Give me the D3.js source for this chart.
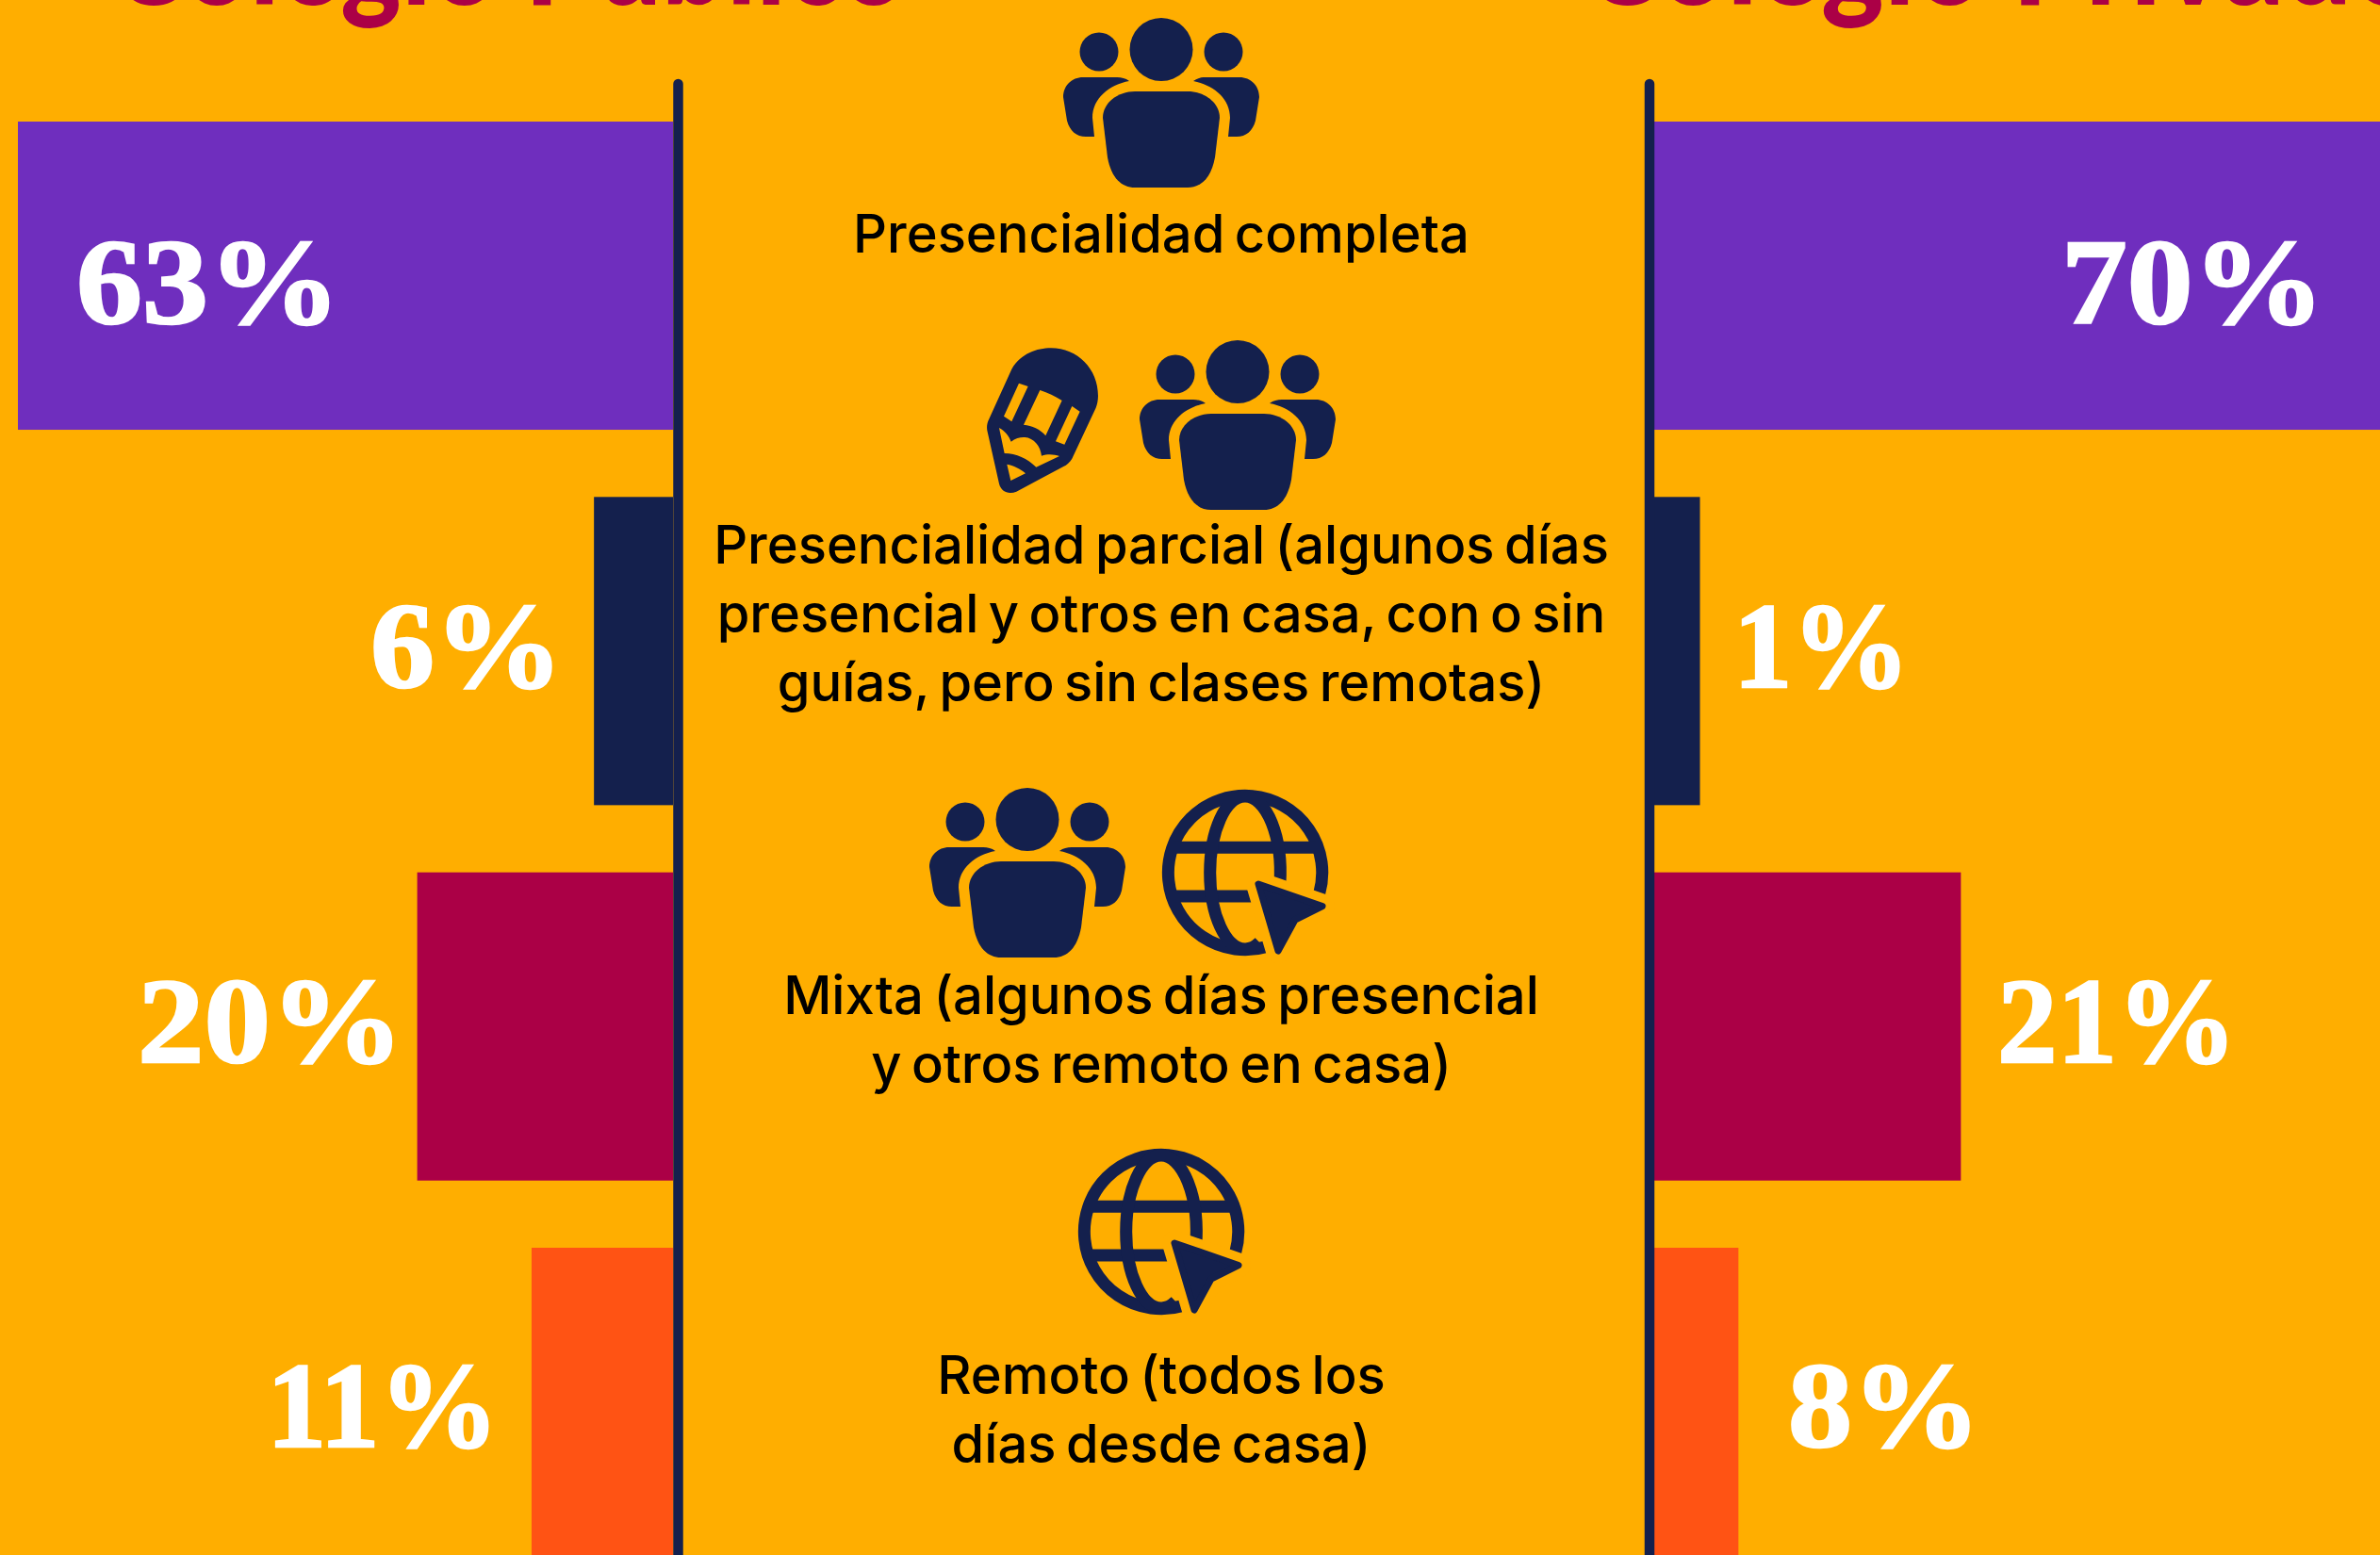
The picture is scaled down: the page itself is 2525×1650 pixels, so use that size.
<!DOCTYPE html>
<html>
<head>
<meta charset="utf-8">
<script src="https://cdn.jsdelivr.net/npm/d3@7"></script>
<style>
  html, body { margin: 0; padding: 0; background: #FFAE00; overflow: hidden; }
  svg { display: block; }
</style>
</head>
<body>
<svg></svg>
<script>
var categories = [
  'Presencialidad completa',
  'Presencialidad parcial (algunos días|presencial y otros en casa, con o sin|guías, pero sin clases remotas)',
  'Mixta (algunos días presencial|y otros remoto en casa)',
  'Remoto (todos los|días desde casa)'
];
var titles = ['Colegio Público', 'Colegio Privado'];

// printed percentages
var publicLabels = [63, 6, 20, 11];
var privateLabels = [70, 1, 21, 8];
// bar lengths as drawn in the picture, they don't follow the printed numbers
var publicBars = [63, 7.6, 24.6, 13.6];
var privateBars = [70, 4.4, 29.5, 8.1];

var barColors = ['#6F2EBE', '#14204D', '#AB0046', '#FF5314'];
var bg = '#FFAE00';
var navy = '#14204D';

var width = 2525;
var height = 1650;

var svg = d3.select('svg')
            .attr('width', width)
            .attr('height', height);

svg.append('rect')
    .attr('width', width)
    .attr('height', height)
    .attr('fill', bg);

var yScale = d3.scaleBand()
               .domain(categories)
               .range([129, 1651])
               .paddingInner(0.179)
               .paddingOuter(0);

var xPublic = d3.scaleLinear().domain([0, 63]).range([714, 19]);
var xPrivate = d3.scaleLinear().domain([0, 70]).range([1755, 2527]);

svg.selectAll('.bar-public')
    .data(publicBars)
  .enter().append('rect')
    .attr('x', d => xPublic(d))
    .attr('y', (d, i) => yScale(categories[i]))
    .attr('width', d => xPublic(0) - xPublic(d))
    .attr('height', yScale.bandwidth())
    .attr('fill', (d, i) => barColors[i]);

svg.selectAll('.bar-private')
    .data(privateBars)
  .enter().append('rect')
    .attr('x', xPrivate(0))
    .attr('y', (d, i) => yScale(categories[i]))
    .attr('width', d => xPrivate(d) - xPrivate(0))
    .attr('height', yScale.bandwidth())
    .attr('fill', (d, i) => barColors[i]);

// the two vertical axes
[719.5, 1750].forEach(function(x) {
  svg.append('line')
      .attr('x1', x).attr('x2', x)
      .attr('y1', 89).attr('y2', 1700)
      .attr('stroke', navy)
      .attr('stroke-width', 10.5)
      .attr('stroke-linecap', 'round');
});

// titles, mostly cut by the top of the picture
svg.selectAll('.title')
    .data(titles)
  .enter().append('text')
    .text(d => d)
    .attr('x', (d, i) => i ? 1678 : 116)
    .attr('y', 5)
    .attr('textLength', (d, i) => i ? 890 : 846)
    .attr('lengthAdjust', 'spacingAndGlyphs')
    .style('font-family', 'Lato')
    .style('font-weight', 900)
    .style('font-size', '138px')
    .attr('fill', '#AB0046');

// percent labels, [left, width] of each as laid out in the picture
var publicLayout = [[81, 280], [393, 204], [146, 282], [283, 246]];
var privateLayout = [[2187, 279], [1839, 187], [2119, 254], [1897, 204]];
var labelBase = [343, 729, 1127, 1535];

function drawLabels(values, layout) {
  svg.selectAll(null)
      .data(values)
    .enter().append('text')
      .text(d => d + '%')
      .attr('x', (d, i) => layout[i][0])
      .attr('y', (d, i) => labelBase[i])
      .attr('textLength', (d, i) => layout[i][1])
      .attr('lengthAdjust', 'spacingAndGlyphs')
      .style('font-family', 'Liberation Serif')
      .style('font-weight', 700)
      .style('font-size', '129px')
      .attr('fill', '#fff')
      .attr('stroke', '#fff')
      .attr('stroke-width', 2.5);
}
drawLabels(publicLabels, publicLayout);
drawLabels(privateLabels, privateLayout);

// center texts
var textBase = [268, 598, 1076, 1479];
var lineStep = 72.8;
categories.forEach(function(c, i) {
  c.split('|').forEach(function(line, j) {
    svg.append('text')
        .text(line)
        .attr('x', 1232)
        .attr('y', textBase[i] + j * lineStep)
        .attr('text-anchor', 'middle')
        .style('font-family', 'Inter')
        .style('font-weight', 500)
        .style('font-size', '56.1px')
        .style('word-spacing', '-4.5px')
        .attr('fill', '#000');
  });
});

// icons
function people(cx, top) {
  var g = svg.append('g')
      .attr('transform', 'translate(' + cx + ',' + top + ')')
      .attr('fill', navy);
  g.append('circle').attr('cy', 33.5).attr('r', 33.5);
  g.append('circle').attr('cx', -66).attr('cy', 36).attr('r', 20.5);
  g.append('circle').attr('cx', 66).attr('cy', 36).attr('r', 20.5);
  g.append('path')
      .attr('d', 'M-62,106C-62,90-46,78-28,78L28,78C46,78 62,90 62,106L57,148C53,170 42,180 28,180L-28,180C-42,180-53,170-57,148Z');
  var side = 'M34,67C38,64 42,63 47,63L83,63C95,63 104,72 104,84L100,109C97,120 90,126 80,126L71,126L73,106C73,85 55,71 34,67Z';
  g.append('path').attr('d', side);
  g.append('path').attr('d', side).attr('transform', 'scale(-1,1)');
}

function globe(cx, cy) {
  var g = svg.append('g')
      .attr('transform', 'translate(' + cx + ',' + cy + ')')
      .attr('fill', 'none')
      .attr('stroke', navy)
      .attr('stroke-width', 13);
  g.append('path').attr('d', 'M78.6,22.5A81.7,81.7 0 1 0 23,78.4');
  g.append('path').attr('d', 'M-75,-26.7L75,-26.7M-75,25L12,25');
  g.append('path').attr('d', 'M36.9,12A37.3,81 0 0 0 0,-81A37.3,81 0 0 0 -37.3,0A37.3,81 0 0 0 0,81A37.3,81 0 0 0 15.2,74');
  var tip = 'M14,12L82,35.5L53,50L35,83Z';
  g.append('path').attr('d', tip)
      .attr('stroke', bg).attr('stroke-width', 26).attr('stroke-linejoin', 'round');
  g.append('path').attr('d', tip)
      .attr('fill', navy).attr('stroke-width', 7).attr('stroke-linejoin', 'round');
}

function pencil(x, y) {
  svg.append('path')
      .attr('transform', 'translate(' + x + ',' + y + ') scale(0.3333)')
      .attr('fill', navy)
      .attr('fill-rule', 'evenodd')
      .attr('d', 'M220,155C250,105 300,88 345,88C430,88 495,155 495,240C495,255 492,268 488,278L412,440C405,452 395,460 385,465L235,545C210,556 186,545 180,520L142,350C140,338 142,328 145,320Z' +
                 'M243,200L272,210L220,322L195,305Z' +
                 'M310,222C335,230 358,242 380,255L328,367C310,345 285,335 258,332Z' +
                 'M412,273L437,290L388,395L360,385Z' +
                 'M180,342C198,352 212,368 218,386C232,375 248,371 262,372C290,374 312,400 315,431C335,424 355,426 372,432L298,467C270,440 235,423 197,423Z' +
                 'M205,458C225,462 248,472 264,487L217,510Z');
}

people(1232, 19);
pencil(1000, 340);
people(1313, 361);
people(1090, 836);
globe(1321, 926);
globe(1232, 1307);
</script>
</body>
</html>
